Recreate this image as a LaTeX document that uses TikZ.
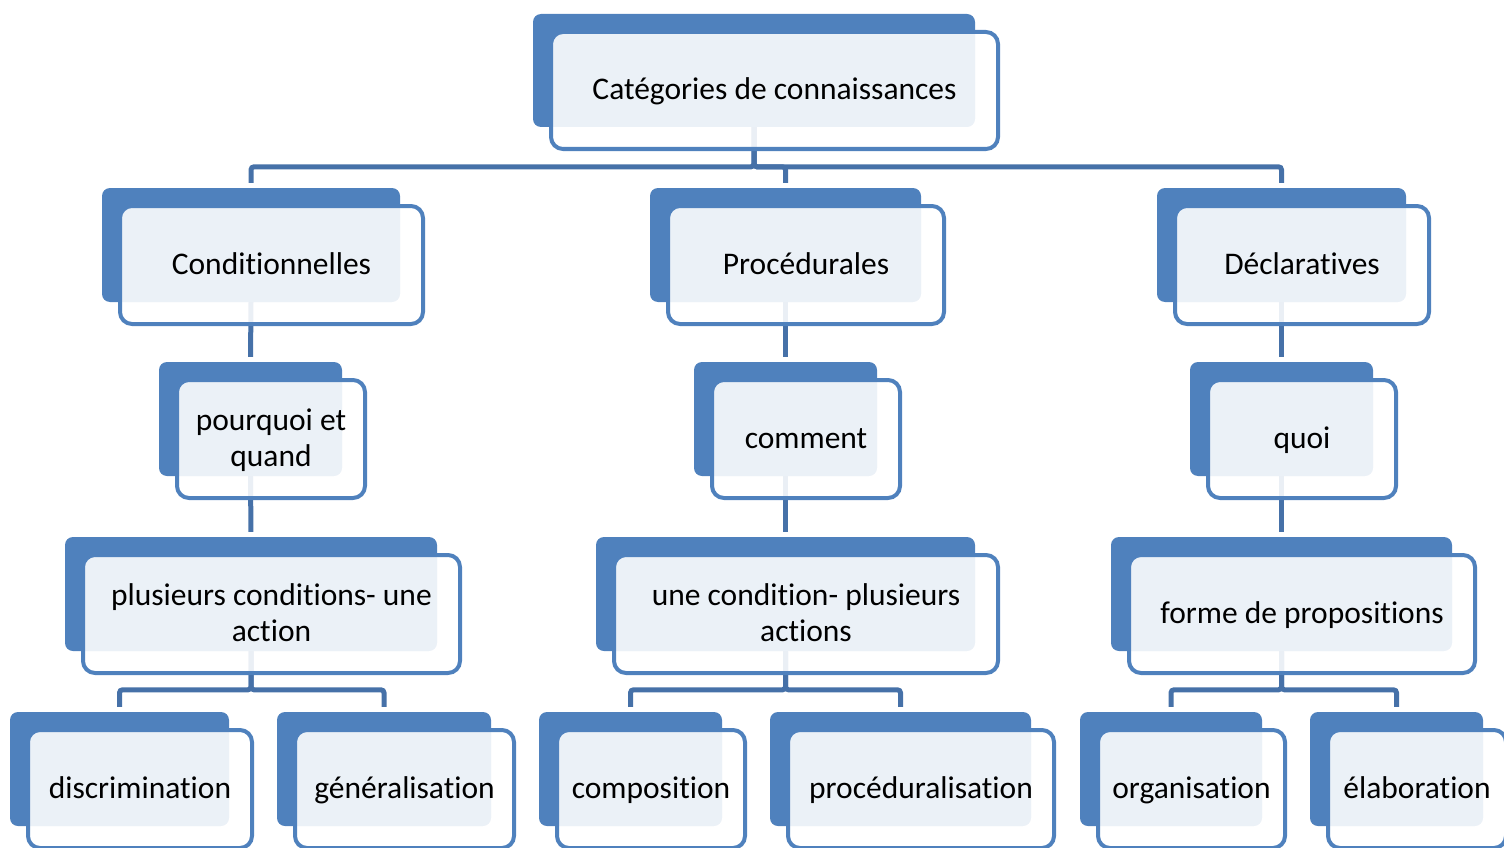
\documentclass[tikz,border=0pt]{standalone}
\usepackage{fontspec}
\setmainfont{Carlito}[Ligatures=NoCommon]
\definecolor{boxblue}{HTML}{4F81BD}
\definecolor{connc}{HTML}{4671A8}
\pgfdeclarelayer{bg}
\pgfsetlayers{bg,main}
\newcommand\mystrut{\rule[-8pt]{0pt}{35pt}}
\tikzset{
  backbox/.style={fill=boxblue, draw=none, rounded corners=8pt, inner sep=0pt},
  frontbox/.style={draw=boxblue, line width=4pt, fill=white, fill opacity=0.89, text opacity=1,
    rounded corners=12pt, inner sep=0pt, align=center, font=\fontsize{31.5}{34}\selectfont},
  conn/.style={draw=connc, line width=5pt, rounded corners=3pt}
}
\newcommand\smbox[6]{%
  \node[backbox, minimum width={#4-#2}, minimum height={#5-#3}] (#1) at ({(#2+#4)/2},{(#3+#5)/2}) {};
  \node[frontbox, minimum width={#4-#2+5}, minimum height={#5-#3+4}] (#1f) at ({(#2+#4)/2+20.5},{(#3+#5)/2+20}) {\mystrut#6\mystrut};
}
\begin{document}
\begin{tikzpicture}[x=1pt,y=-1pt]
\useasboundingbox (0,0) rectangle (1504,848);
\smbox{top}{533}{14}{975}{127}{Catégories de connaissances}
\smbox{cond}{102}{188}{400}{302}{Conditionnelles}
\smbox{proc}{650}{188}{921}{302}{Procédurales}
\smbox{decl}{1157}{188}{1406}{302}{Déclaratives}
\smbox{pq}{159}{362}{342}{476}{pourquoi et\\\mystrut quand}
\smbox{com}{694}{362}{877}{476}{comment}
\smbox{quoi}{1190}{362}{1373}{476}{quoi}
\smbox{plc}{65}{537}{437}{651}{plusieurs conditions- une\\\mystrut action}
\smbox{ucp}{596}{537}{975}{651}{une condition- plusieurs\\\mystrut actions}
\smbox{fdp}{1111}{537}{1452}{651}{forme de propositions}
\smbox{disc}{10}{712}{229}{826}{discrimination}
\smbox{gen}{277}{712}{491}{826}{généralisation}
\smbox{compo}{539}{712}{722}{826}{composition}
\smbox{procd}{770}{712}{1031}{826}{procéduralisation}
\smbox{orga}{1080}{712}{1262}{826}{organisation}
\smbox{elab}{1310}{712}{1483}{826}{élaboration}
\begin{pgfonlayer}{bg}
\draw[conn, shorten <=5pt] (cond.north) -- ++(0,-21) -| (top.south);
\draw[conn, shorten <=5pt] (proc.north) -- ++(0,-21) -| (top.south);
\draw[conn, shorten <=5pt] (decl.north) -- ++(0,-21) -| (top.south);
\draw[conn, shorten >=5pt] (cond.south) -- (pq.north);
\draw[conn, shorten >=5pt] (proc.south) -- (com.north);
\draw[conn, shorten >=5pt] (decl.south) -- (quoi.north);
\draw[conn, shorten >=5pt] (pq.south) -- (plc.north);
\draw[conn, shorten >=5pt] (com.south) -- (ucp.north);
\draw[conn, shorten >=5pt] (quoi.south) -- (fdp.north);
\draw[conn, shorten <=5pt] (disc.north) -- ++(0,-22) -| (plc.south);
\draw[conn, shorten <=5pt] (gen.north) -- ++(0,-22) -| (plc.south);
\draw[conn, shorten <=5pt] (compo.north) -- ++(0,-22) -| (ucp.south);
\draw[conn, shorten <=5pt] (procd.north) -- ++(0,-22) -| (ucp.south);
\draw[conn, shorten <=5pt] (orga.north) -- ++(0,-22) -| (fdp.south);
\draw[conn, shorten <=5pt] (elab.north) -- ++(0,-22) -| (fdp.south);
\end{pgfonlayer}
\end{tikzpicture}
\end{document}
